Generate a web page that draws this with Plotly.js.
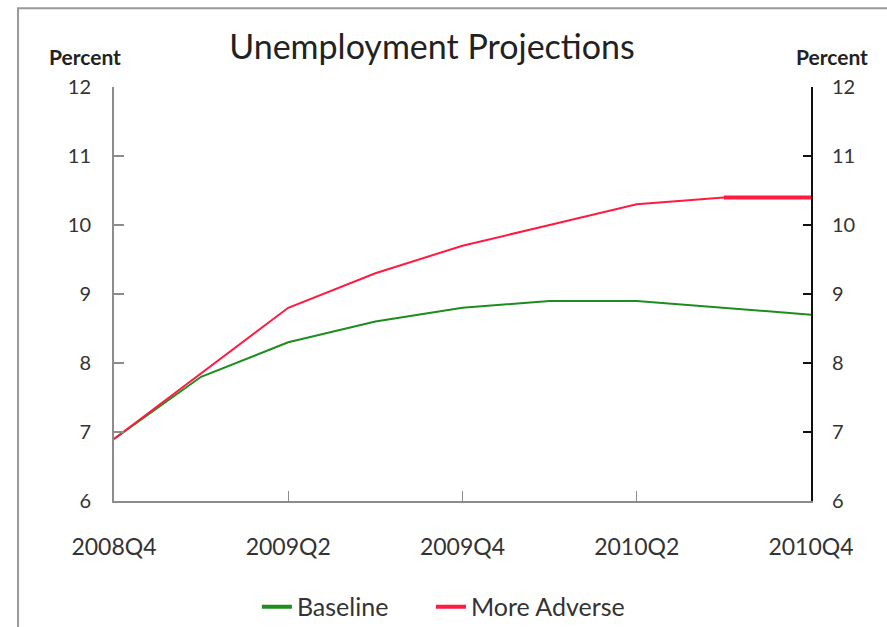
<!DOCTYPE html>
<html>
<head>
<meta charset="utf-8">
<script src="https://cdn.plot.ly/plotly-3.0.1.min.js"></script>
<style>html,body{margin:0;padding:0;background:#fff;}#chart{width:887px;height:627px;}</style>
</head>
<body>
<div id="chart"></div>
<script>
const quarters = ['2008Q4','2009Q1','2009Q2','2009Q3','2009Q4','2010Q1','2010Q2','2010Q3','2010Q4'];
const baseline = [6.9, 7.8, 8.3, 8.6, 8.8, 8.9, 8.9, 8.8, 8.7];
const moreAdverse = [6.9, 7.85, 8.8, 9.3, 9.7, 10.0, 10.3, 10.4, 10.4];
const tickQuarters = ['2008Q4','2009Q2','2009Q4','2010Q2','2010Q4'];
const yTicks = [6, 7, 8, 9, 10, 11, 12];

const font = 'Lato, "Open Sans", sans-serif';
const green = '#1f8c1f', red = '#ff1a40';
const traces = [
  {x: quarters, y: baseline, name: 'Baseline', type: 'scatter', mode: 'lines',
   line: {color: green, width: 2}, showlegend: false},
  {x: quarters, y: moreAdverse, name: 'More Adverse', type: 'scatter', mode: 'lines',
   line: {color: red, width: 2}, showlegend: false},
  {x: quarters.slice(7), y: moreAdverse.slice(7), name: 'More Adverse', type: 'scatter', mode: 'lines',
   line: {color: red, width: 4}, yaxis: 'y2', showlegend: false},
  // legend entries (thicker legend keys as in the reference)
  {x: [quarters[0]], y: [null], name: 'Baseline', type: 'scatter', mode: 'lines',
   line: {color: green, width: 4}, legend: 'legend'},
  {x: [quarters[0]], y: [null], name: 'More Adverse', type: 'scatter', mode: 'lines',
   line: {color: red, width: 4}, legend: 'legend2'}
];
const legendStyle = {orientation: 'h', xanchor: 'left', y: -0.256, yanchor: 'middle',
                     font: {size: 25, color: '#333'}, bgcolor: 'rgba(0,0,0,0)'};
const layout = {
  width: 887, height: 627,
  margin: {l: 114, r: 76, t: 87, b: 126, autoexpand: false},
  paper_bgcolor: '#fff', plot_bgcolor: '#fff',
  font: {family: font, color: '#222'},
  title: {text: 'Unemployment Projections', font: {size: 34, color: '#222', family: font},
          x: 0.487, xanchor: 'center', y: 0.925, yanchor: 'middle'},
  showlegend: true,
  legend: Object.assign({x: 0.205}, legendStyle),
  legend2: Object.assign({x: 0.4548}, legendStyle),
  xaxis: {type: 'category', range: [0, 8], tickvals: tickQuarters, ticktext: tickQuarters,
          showgrid: false, zeroline: false, showline: true, linecolor: '#8c8c8c', linewidth: 2,
          ticks: 'inside', ticklen: 10, tickcolor: '#8c8c8c', tickwidth: 1,
          ticklabelstandoff: 24, tickfont: {size: 23, color: '#333'}, fixedrange: true},
  yaxis: {range: [6, 12], tickvals: yTicks, showgrid: false, zeroline: false,
          showline: true, linecolor: '#8c8c8c', linewidth: 2,
          ticks: 'inside', ticklen: 10, tickcolor: '#8c8c8c', tickwidth: 2,
          ticklabelstandoff: 17, tickfont: {size: 20, color: '#333'}},
  yaxis2: {range: [6, 12], tickvals: yTicks, overlaying: 'y', side: 'right', showgrid: false,
           zeroline: false, showline: true, linecolor: '#111', linewidth: 2,
           ticks: 'inside', ticklen: 8, tickcolor: '#111', tickwidth: 2,
           ticklabelstandoff: 15, tickfont: {size: 20, color: '#333'}},
  shapes: [
    {type: 'rect', xref: 'paper', yref: 'paper', x0: -0.1377, x1: 1.3, y0: -0.5, y1: 1.19,
     line: {color: '#999', width: 2}, fillcolor: 'rgba(0,0,0,0)', layer: 'below'}
  ],
  annotations: [
    {text: '<b>Percent</b>', xref: 'paper', yref: 'paper', x: -0.0416, y: 1.074,
     xanchor: 'center', yanchor: 'middle', showarrow: false, font: {size: 21, color: '#222'}},
    {text: '<b>Percent</b>', xref: 'paper', yref: 'paper', x: 1.03, y: 1.074,
     xanchor: 'center', yanchor: 'middle', showarrow: false, font: {size: 21, color: '#222'}}
  ]
};
Plotly.newPlot('chart', traces, layout, {displayModeBar: false, staticPlot: true});
</script>
</body>
</html>
